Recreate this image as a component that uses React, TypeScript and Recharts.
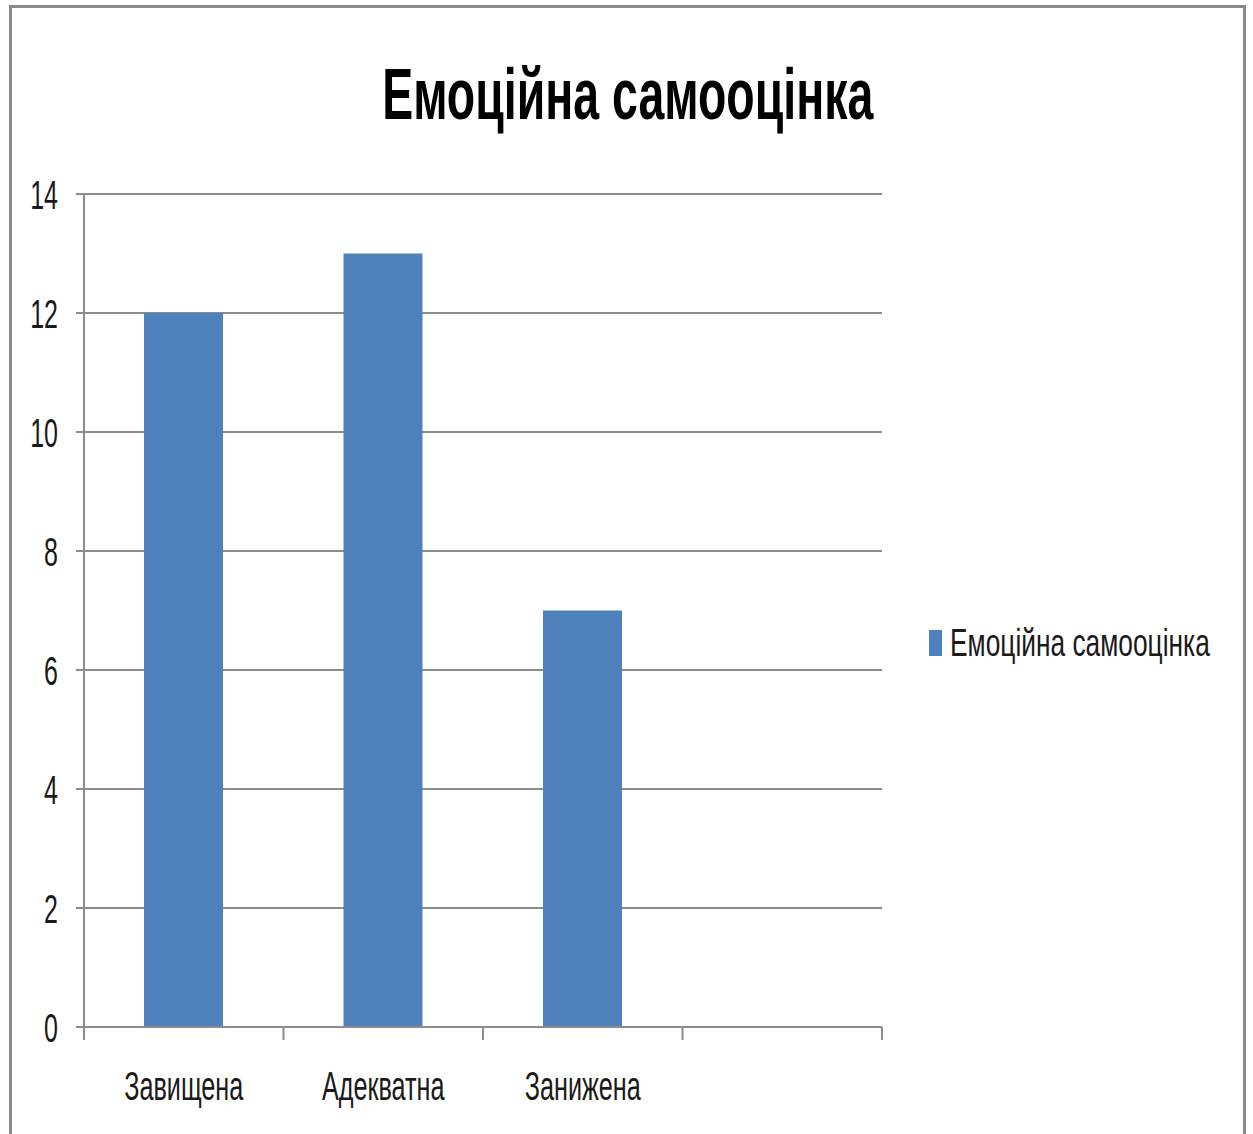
import React from 'react';
import { BarChart, Bar, XAxis, YAxis, CartesianGrid, Legend } from 'recharts';

const categories = ['Завищена', 'Адекватна', 'Занижена', ''];
const values: (number | null)[] = [12, 13, 7, null];
const yTicks = [0, 2, 4, 6, 8, 10, 12, 14];
const seriesName = 'Емоційна самооцінка';
const title = 'Емоційна самооцінка';

const data = categories.map((c, i) => ({ category: c, value: values[i] }));

const FONT = '"Liberation Sans", Arial, sans-serif';
const SX = 0.61;
const X_SX = 0.63;
const LEGEND_SX = 0.675;
const TITLE_SX = 0.645;
const GRAY = '#8c8c8c';
const BLUE = '#4F81BD';
const TEXT = '#1a1a1a';

const W = 1253;
const H = 1134;
const PLOT_LEFT = 84;
const PLOT_RIGHT = 882;
const PLOT_TOP = 194;
const PLOT_BOTTOM = 1027;
const X_AXIS_H = 80;
const BAND = (PLOT_RIGHT - PLOT_LEFT) / categories.length;

const YTick = (props: any) => {
  const { x, y, payload } = props;
  return (
    <text
      transform={`translate(${x - 18},${y + 15}) scale(${SX},1)`}
      textAnchor="end"
      fontFamily={FONT}
      fontSize={41}
      fill={TEXT}
    >
      {payload.value}
    </text>
  );
};

const XTick = (props: any) => {
  const { x, payload, index } = props;
  return (
    <g>
      <line x1={x - BAND / 2} x2={x - BAND / 2} y1={PLOT_BOTTOM} y2={PLOT_BOTTOM + 13} stroke={GRAY} strokeWidth={2} />
      {index === categories.length - 1 && (
        <line x1={x + BAND / 2} x2={x + BAND / 2} y1={PLOT_BOTTOM} y2={PLOT_BOTTOM + 13} stroke={GRAY} strokeWidth={2} />
      )}
      <text
        transform={`translate(${x},${PLOT_BOTTOM + 73}) scale(${X_SX},1)`}
        textAnchor="middle"
        fontFamily={FONT}
        fontSize={40}
        fill={TEXT}
      >
        {payload.value}
      </text>
    </g>
  );
};

const LegendContent = () => (
  <div style={{ display: 'flex', alignItems: 'center', whiteSpace: 'nowrap' }}>
    <div style={{ width: 13, height: 26, background: BLUE, flexShrink: 0 }} />
    <span
      style={{
        display: 'inline-block',
        marginLeft: 8,
        fontFamily: FONT,
        fontSize: 39,
        lineHeight: '44px',
        color: TEXT,
        transform: `scaleX(${LEGEND_SX})`,
        transformOrigin: 'left center',
        flexShrink: 0,
      }}
    >
      {seriesName}
    </span>
  </div>
);

export default function App() {
  return (
    <div style={{ position: 'absolute', left: 0, top: 0, width: W, height: H, overflow: 'hidden', background: '#fff' }}>
      <div
        style={{
          position: 'absolute',
          left: 9,
          top: 5,
          width: 1237,
          height: H,
          border: `3px solid #8a8a8a`,
          borderBottom: 'none',
          boxSizing: 'border-box',
        }}
      />
      <div
        style={{
          position: 'absolute',
          left: 0,
          top: 58,
          width: 1256,
          textAlign: 'center',
          fontFamily: FONT,
          fontWeight: 'bold',
          fontSize: 72,
          lineHeight: '72px',
          color: '#000',
          whiteSpace: 'nowrap',
        }}
      >
        <span style={{ display: 'inline-block', transform: `scaleX(${TITLE_SX})` }}>{title}</span>
      </div>
      <div style={{ position: 'absolute', left: 0, top: 0 }}>
        <BarChart
          width={W}
          height={H}
          data={data}
          margin={{ top: PLOT_TOP, right: W - PLOT_RIGHT, left: 0, bottom: H - PLOT_BOTTOM - X_AXIS_H }}
          barCategoryGap="30%"
        >
          <CartesianGrid vertical={false} stroke={GRAY} strokeWidth={2} />
          <XAxis
            dataKey="category"
            interval={0}
            height={X_AXIS_H}
            tickLine={false}
            tickSize={0}
            axisLine={{ stroke: GRAY, strokeWidth: 2 }}
            tick={<XTick />}
          />
          <YAxis
            width={PLOT_LEFT}
            domain={[0, 14]}
            ticks={yTicks}
            interval={0}
            tickSize={8}
            tickMargin={0}
            tickLine={{ stroke: GRAY, strokeWidth: 2 }}
            axisLine={{ stroke: GRAY, strokeWidth: 2 }}
            tick={<YTick />}
          />
          <Legend
            layout="horizontal"
            verticalAlign="middle"
            align="center"
            content={<LegendContent />}
            wrapperStyle={{ position: 'absolute', left: 929, top: 621, width: 320 }}
          />
          <Bar dataKey="value" name={seriesName} fill={BLUE} barSize={79} isAnimationActive={false} />
        </BarChart>
      </div>
    </div>
  );
}
